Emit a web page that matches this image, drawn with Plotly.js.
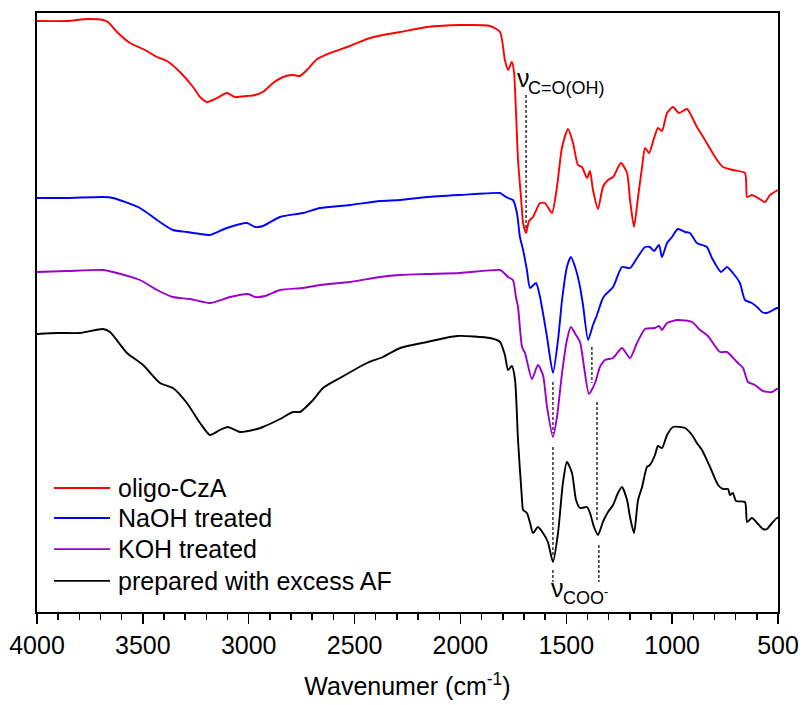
<!DOCTYPE html>
<html>
<head>
<meta charset="utf-8">
<script src="https://cdn.plot.ly/plotly-3.0.1.min.js"></script>
<style>html,body{margin:0;padding:0;background:#fff;}#chart{width:802px;height:705px;}</style>
</head>
<body>
<div id="chart"></div>
<script>
// Series names (legend)
const seriesNames = ["oligo-CzA", "NaOH treated", "KOH treated", "prepared with excess AF"];
const seriesColors = ["#ff0000", "#0000ff", "#9900cc", "#000000"];

// oligo-CzA (offset transmittance, a.u.)
const redWavenumber = [4000,3858,3760,3688,3665,3622,3561,3499,3433,3386,3325,3263,3230,3197,3150,3103,3065,3008,2970,2933,2885,2838,2791,2758,2725,2677,2616,2522,2441,2366,2285,2158,2002,1860,1813,1790,1775,1757,1747,1738,1728,1714,1704,1690,1676,1657,1624,1601,1568,1544,1520,1492,1468,1445,1426,1402,1388,1374,1350,1327,1303,1279,1242,1213,1199,1180,1161,1142,1128,1109,1091,1067,1048,1024,996,968,930,906,883,859,831,788,760,713,656,646,623,594,561,538,500];
const redValue = [591,591,593,592,590,580,569,563,555,551,540,525,515,510,514,519,515,516,517,520,529,535,537,536,542,553,559,566,573,577,580,585,587,586,580,552,542,550,540,502,452,415,389,379,391,395,409,409,399,425,465,483,469,447,445,434,441,422,403,425,432,435,449,439,412,385,415,445,464,459,470,484,481,499,505,499,503,495,485,477,467,452,445,442,439,415,417,414,410,417,422];

// NaOH treated
const blueWavenumber = [4000,3858,3688,3641,3514,3433,3358,3292,3230,3183,3103,3008,2970,2933,2852,2744,2663,2522,2380,2285,2158,2002,1813,1799,1775,1752,1733,1719,1704,1686,1671,1643,1624,1591,1563,1539,1520,1497,1478,1454,1435,1421,1397,1374,1355,1331,1317,1279,1237,1199,1166,1128,1105,1086,1062,1048,1024,1001,973,939,916,883,836,812,769,741,713,680,656,623,594,576,552,505,500];
const blueValue = [414,414,415,414,404,392,382,380,378,377,384,389,385,386,395,399,404,407,411,412,415,417,419,417,414,412,399,375,362,342,324,329,315,275,239,272,312,345,355,342,325,307,272,287,297,312,317,325,345,344,354,365,365,361,367,355,369,375,383,380,379,369,365,354,340,345,339,329,312,309,304,300,299,304,304];

// KOH treated
const purpleWavenumber = [4000,3858,3688,3641,3514,3433,3358,3277,3183,3088,3003,2970,2923,2852,2744,2663,2522,2380,2285,2158,2002,1813,1799,1775,1752,1738,1728,1709,1695,1662,1634,1610,1591,1563,1544,1520,1497,1478,1454,1435,1416,1393,1364,1341,1317,1279,1237,1199,1166,1128,1081,1062,1048,1024,973,906,868,831,774,741,694,665,642,609,571,528,505,500];
const purpleValue = [340,341,342,340,332,322,315,313,309,315,318,315,316,322,324,327,330,335,337,338,339,342,340,335,332,315,305,265,259,233,247,237,205,175,195,239,272,285,277,270,245,218,229,245,252,254,264,254,269,283,284,286,282,289,292,290,282,276,260,260,250,244,230,227,221,220,223,223];

// prepared with excess AF
const blackWavenumber = [4000,3900,3797,3688,3655,3575,3499,3419,3358,3292,3230,3183,3136,3098,3041,2961,2933,2852,2791,2758,2696,2649,2569,2441,2366,2285,2158,2016,1860,1813,1790,1775,1757,1742,1728,1709,1704,1686,1671,1657,1634,1610,1587,1563,1539,1516,1497,1473,1454,1435,1402,1388,1369,1350,1327,1303,1279,1256,1237,1213,1199,1180,1161,1142,1119,1105,1081,1067,1048,1024,996,939,906,883,859,821,783,760,736,727,713,698,656,646,623,594,571,552,528,505,500];
const blackValue = [278,279,279,283,280,259,247,229,224,209,189,177,182,185,180,183,185,193,200,200,212,224,234,249,255,264,270,276,274,270,257,242,246,232,172,112,102,99,89,79,85,79,70,50,79,129,150,139,112,104,105,99,85,77,90,100,107,119,125,112,95,79,112,125,145,147,157,166,164,177,185,184,177,169,162,145,127,123,123,117,119,111,110,90,94,88,83,83,89,94,94];

// Band markers (wavenumber positions of dashed guide lines)
const bandCO = 1690;
const bandCOOa = 1563;
const bandCOOb = [1379, 1355, 1346];

const xs = [redWavenumber, blueWavenumber, purpleWavenumber, blackWavenumber];
const ys = [redValue, blueValue, purpleValue, blackValue];

const FONT = 'Arial, "Liberation Sans", sans-serif';

const traces = seriesNames.map((name, i) => ({
  x: xs[i], y: ys[i], name: name, type: 'scatter', mode: 'lines', showlegend: false,
  line: {color: seriesColors[i], width: 1.9, shape: 'spline', smoothing: 0.6}
}));

function vdash(x0, y0, x1, y1) {
  return {type: 'line', xref: 'x', yref: 'y', x0: x0, y0: y0, x1: x1, y1: y1,
          line: {color: '#000', width: 1.2, dash: '3px,2px'}};
}

const shapes = [
  vdash(bandCO, 517, bandCO, 382),
  vdash(bandCOOa, 230, bandCOOa, 179),
  vdash(bandCOOa, 165, bandCOOa, 55),
  vdash(bandCOOa, 42, bandCOOa, 30),
  vdash(bandCOOb[0], 265, bandCOOb[0], 229),
  vdash(bandCOOb[1], 210, bandCOOb[1], 90),
  vdash(bandCOOb[2], 67, bandCOOb[2], 30)
];

const annotations = [
  {xref: 'x', yref: 'y', x: 1742, y: 518, xanchor: 'left', yanchor: 'bottom', showarrow: false,
   text: 'ν', font: {family: FONT, size: 25, color: '#000'}},
  {xref: 'x', yref: 'y', x: 1690, y: 512, xanchor: 'left', yanchor: 'bottom', showarrow: false,
   text: 'C=O(OH)', font: {family: FONT, size: 18, color: '#000'}},
  {xref: 'x', yref: 'y', x: 1584, y: 8, xanchor: 'left', yanchor: 'bottom', showarrow: false,
   text: 'ν', font: {family: FONT, size: 25, color: '#000'}},
  {xref: 'x', yref: 'y', x: 1524, y: 2, xanchor: 'left', yanchor: 'bottom', showarrow: false,
   text: 'COO<sup>-</sup>', font: {family: FONT, size: 18, color: '#000'}}
];

// Custom legend (positions in paper coordinates)
const legendRows = [0.207, 0.157, 0.105, 0.052];
seriesNames.forEach((name, i) => {
  shapes.push({type: 'line', xref: 'paper', yref: 'paper', x0: 0.023, x1: 0.0985,
               y0: legendRows[i], y1: legendRows[i], line: {color: seriesColors[i], width: 1.9}});
  annotations.push({xref: 'paper', yref: 'paper', x: 0.107, y: legendRows[i], xanchor: 'left', yanchor: 'middle',
                    showarrow: false, text: name, font: {family: FONT, size: 25, color: '#000'}});
});

const layout = {
  width: 802, height: 705,
  margin: {l: 37, r: 24, t: 13, b: 93},
  paper_bgcolor: '#fff', plot_bgcolor: '#fff',
  font: {family: FONT, size: 25, color: '#000'},
  showlegend: false,
  xaxis: {
    range: [4000, 500], showgrid: false, zeroline: false,
    showline: true, linecolor: '#000', linewidth: 1.7, mirror: true,
    ticks: 'outside', ticklen: 10, tickwidth: 1.5, tickcolor: '#000',
    tick0: 500, dtick: 500,
    minor: {dtick: 100, ticks: 'outside', ticklen: 6, tickwidth: 1.5, tickcolor: '#000', showgrid: false},
    tickfont: {family: FONT, size: 25, color: '#000'},
    title: {text: 'Wavenumer (cm<sup>-1</sup>)', font: {family: FONT, size: 25, color: '#000'}, standoff: 20}
  },
  yaxis: {
    range: [0, 599], showgrid: false, zeroline: false,
    showline: true, linecolor: '#000', linewidth: 1.7, mirror: true,
    ticks: '', showticklabels: false
  },
  shapes: shapes,
  annotations: annotations
};

Plotly.newPlot('chart', traces, layout, {staticPlot: true, displayModeBar: false});
</script>
</body>
</html>
